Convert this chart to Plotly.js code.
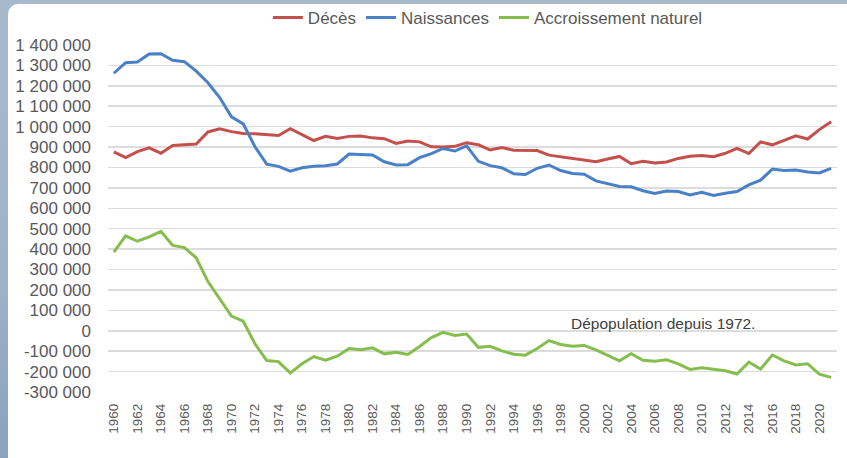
<!DOCTYPE html>
<html>
<head>
<meta charset="utf-8">
<script src="https://cdn.plot.ly/plotly-3.0.1.min.js"></script>
<style>
  html, body { margin: 0; padding: 0; width: 847px; height: 458px; overflow: hidden; }
  body { background: linear-gradient(180deg, #a9b9cc 0%, #9fb2c8 60%, #8aa2bd 100%); position: relative; }
  #panel { position: absolute; left: 8px; top: 4px; right: 0; bottom: 0; background: #ffffff; border-top-left-radius: 10px; }
  #chart { position: absolute; left: 0; top: 0; width: 847px; height: 458px; }
</style>
</head>
<body>
<div id="panel"></div>
<div id="chart"></div>
<script>
const years = [];
for (let y = 1960; y <= 2021; y++) years.push(y);

const deces = [876721, 848354, 877922, 895716, 869989, 907292, 911046, 914524, 974040, 988938,
  975664, 966613, 965689, 962000, 956600, 989648, 960000, 932000, 953000, 942000,
  952371, 954563, 945000, 941000, 918000, 929649, 925426, 901291, 900627, 903441,
  921445, 911245, 885443, 897270, 884661, 884588, 882843, 860389, 852382, 846330,
  838797, 828541, 841686, 853946, 818271, 830227, 821627, 827155, 844439, 854544,
  858768, 852328, 869582, 893825, 868356, 925200, 910899, 932263, 954874, 939520,
  985572, 1023687];

const naissances = [1261614, 1313505, 1316534, 1355595, 1357304, 1325386, 1318303, 1272276, 1214968, 1142366,
  1047737, 1013396, 901657, 815969, 805500, 782310, 798334, 805496, 808619, 817217,
  865789, 862100, 861275, 827933, 812292, 813803, 848232, 867969, 892993, 880459,
  905675, 830019, 809114, 798447, 769603, 765221, 796013, 812173, 785034, 770744,
  766999, 734475, 719250, 706721, 705622, 685795, 672724, 684862, 682514, 665126,
  677947, 662685, 673544, 682069, 714927, 737575, 792141, 784901, 787523, 778090,
  773144, 795492];

const accroissement = [384893, 465151, 438612, 459879, 487315, 418094, 407257, 357752, 240928, 153428,
  72073, 46783, -64032, -146031, -151100, -207338, -161666, -126504, -144381, -124783,
  -86582, -92463, -83725, -113067, -105708, -115846, -77194, -33322, -7634, -22982,
  -15770, -81226, -76329, -98823, -115058, -119367, -86830, -48216, -67348, -75586,
  -71798, -94066, -122436, -147225, -112649, -144432, -148903, -142293, -161925, -189418,
  -180821, -189643, -196038, -211756, -153429, -187625, -118758, -147362, -167351, -161430,
  -212428, -228195];

const seriesNames = ["Décès", "Naissances", "Accroissement naturel"];
const seriesColors = ["#c4504c", "#4a80c6", "#86bd4f"];

const yTickVals = [1400000, 1300000, 1200000, 1100000, 1000000, 900000, 800000, 700000, 600000, 500000,
  400000, 300000, 200000, 100000, 0, -100000, -200000, -300000];
const yTickText = ["1 400 000", "1 300 000", "1 200 000", "1 100 000", "1 000 000", "900 000", "800 000",
  "700 000", "600 000", "500 000", "400 000", "300 000", "200 000", "100 000", "0",
  "-100 000", "-200 000", "-300 000"];

const xTickVals = [];
for (let y = 1960; y <= 2020; y += 2) xTickVals.push(y);
const xTickText = xTickVals.map(String);

const noteText = "Dépopulation depuis 1972.";

const font = "Liberation Sans, Arial, sans-serif";
const data = [deces, naissances, accroissement].map((vals, i) => ({
  type: "scatter",
  mode: "lines",
  x: years,
  y: vals,
  name: seriesNames[i],
  line: { color: seriesColors[i], width: 3 },
  hoverinfo: "x+y+name"
}));

const layout = {
  width: 847,
  height: 458,
  margin: { l: 108, r: 10, t: 45, b: 66, autoexpand: false },
  paper_bgcolor: "rgba(0,0,0,0)",
  plot_bgcolor: "rgba(0,0,0,0)",
  font: { family: font, color: "#595959", size: 17 },
  showlegend: true,
  legend: {
    orientation: "h",
    xref: "container", yref: "container",
    x: 0.576, xanchor: "center",
    y: 1 - 18 / 458, yanchor: "middle",
    font: { family: font, size: 17, color: "#595959" },
    itemwidth: 30,
    bgcolor: "rgba(0,0,0,0)"
  },
  xaxis: {
    range: [1959.5, 2021.5],
    tickmode: "array",
    tickvals: xTickVals,
    ticktext: xTickText,
    tickangle: -90,
    tickfont: { family: font, size: 13.5, color: "#595959" },
    showgrid: false,
    zeroline: false,
    showline: false,
    ticks: "",
    ticklabelstandoff: 8,
    fixedrange: true
  },
  yaxis: {
    range: [-300000, 1400000],
    tickmode: "array",
    tickvals: yTickVals,
    ticktext: yTickText,
    tickfont: { family: font, size: 17, color: "#595959" },
    showgrid: true,
    gridcolor: "#dcdcdc",
    gridwidth: 1.5,
    zeroline: false,
    showline: false,
    ticks: "",
    ticklabelstandoff: 16,
    fixedrange: true
  },
  annotations: [{
    x: 2006.7, y: 34000, xref: "x", yref: "y",
    text: noteText,
    showarrow: false,
    xanchor: "center", yanchor: "middle",
    font: { family: font, size: 15.5, color: "#404040" }
  }]
};

Plotly.newPlot("chart", data, layout, { displayModeBar: false, staticPlot: true });
</script>
</body>
</html>
